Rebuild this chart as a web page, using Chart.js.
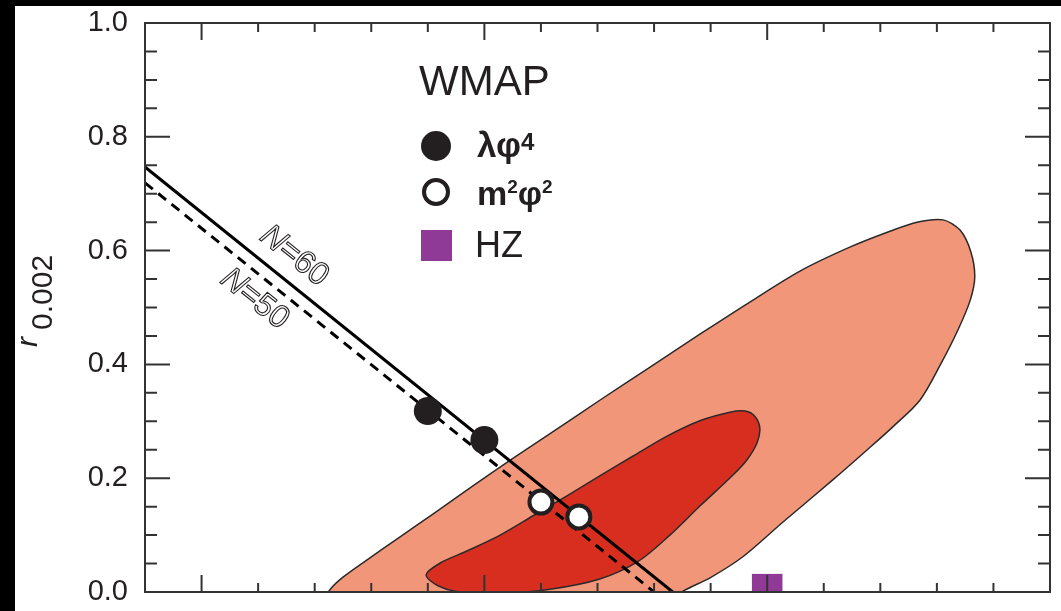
<!DOCTYPE html>
<html>
<head>
<meta charset="utf-8">
<script src="https://cdn.jsdelivr.net/npm/chart.js@4.4.0/dist/chart.umd.min.js"></script>
<style>
  html, body { margin: 0; padding: 0; background: #000; }
  #wrap { position: absolute; left: 15px; top: 6px; width: 1046px; height: 605px; background: #fff; }
</style>
</head>
<body>
<div id="wrap"><canvas id="rChart" width="1046" height="605"></canvas></div>
<script>
// contour data (n_s, r)
const outerNs = [0.9549, 0.9634, 0.9704, 0.9793, 0.9881, 0.9970, 1.0058, 1.0146, 1.0217, 1.0265, 1.0311, 1.0341, 1.0360, 1.0367, 1.0359, 1.0337, 1.0306, 1.0270, 1.0224, 1.0177, 1.0116, 1.0028, 0.9957, 0.9899, 0.9849, 0.9825, 0.9213, 0.9227, 0.9250, 0.9292, 0.9351, 0.9409, 0.9469, 0.9549];
const outerR  = [0.234, 0.290, 0.337, 0.395, 0.453, 0.510, 0.564, 0.606, 0.634, 0.650, 0.654, 0.636, 0.598, 0.554, 0.513, 0.460, 0.399, 0.337, 0.292, 0.250, 0.197, 0.123, 0.062, 0.025, 0.000, -0.023, -0.023, 0.004, 0.026, 0.056, 0.097, 0.137, 0.179, 0.234];
const innerNs = [0.9586, 0.9646, 0.9704, 0.9763, 0.9823, 0.9881, 0.9934, 0.9961, 0.9978, 0.9987, 0.9982, 0.9964, 0.9940, 0.9881, 0.9828, 0.9772, 0.9704, 0.9616, 0.9528, 0.9457, 0.9418, 0.9397, 0.9422, 0.9469, 0.9528, 0.9586];
const innerR  = [0.134, 0.169, 0.204, 0.239, 0.274, 0.301, 0.316, 0.318, 0.309, 0.288, 0.262, 0.232, 0.206, 0.151, 0.100, 0.054, 0.023, 0.005, -0.002, 0.000, 0.011, 0.030, 0.051, 0.072, 0.100, 0.134];

const n60Ns = [0.89, 0.9833];
const n60R  = [0.747, 0.0];
const n50Ns = [0.89, 0.9800];
const n50R  = [0.719, 0.0];

const lambdaNs = [0.940, 0.950];
const lambdaR  = [0.318, 0.267];
const m2Ns = [0.960, 0.9667];
const m2R  = [0.158, 0.132];
const hzNs = [1.0];
const hzR  = [0.005];

const yTickValues = [0, 0.2, 0.4, 0.6, 0.8, 1.0];
const yTickLabels = ['0.0', '0.2', '0.4', '0.6', '0.8', '1.0'];
const yMinorTicks = [0.05, 0.1, 0.15, 0.25, 0.3, 0.35, 0.45, 0.5, 0.55, 0.65, 0.7, 0.75, 0.85, 0.9, 0.95];
const xMajorTicks = [0.90, 0.95, 1.00, 1.05];
const xMinorTicks = [0.89, 0.91, 0.92, 0.93, 0.94, 0.96, 0.97, 0.98, 0.99, 1.01, 1.02, 1.03, 1.04];

const lineLabels = ['60', '50'];
const lineLabelNs = [0.9164, 0.9094];
const lineLabelR  = [0.5905, 0.515];

const FONT = '"Liberation Sans", Arial, Helvetica, sans-serif';
const INK = '#231F20';

const pts = (xs, ys) => xs.map((v, i) => ({x: v, y: ys[i]}));

// frame + inward ticks on all four sides
const frameTicks = {
    id: 'frameTicks',
    afterDatasetsDraw(chart) {
        const {ctx, chartArea: a, scales: {x, y}} = chart;
        ctx.save();
        ctx.strokeStyle = '#333';
        ctx.lineWidth = 2;
        ctx.beginPath();
        const xt = (v, len) => {
            const px = x.getPixelForValue(v);
            ctx.moveTo(px, a.bottom); ctx.lineTo(px, a.bottom - len);
            ctx.moveTo(px, a.top); ctx.lineTo(px, a.top + len);
        };
        const yt = (v, len) => {
            const py = y.getPixelForValue(v);
            ctx.moveTo(a.left, py); ctx.lineTo(a.left + len, py);
            ctx.moveTo(a.right, py); ctx.lineTo(a.right - len, py);
        };
        xMajorTicks.forEach(v => xt(v, 17));
        xMinorTicks.forEach(v => xt(v, 9));
        yTickValues.forEach(v => yt(v, 25));
        yMinorTicks.forEach(v => yt(v, 12));
        ctx.stroke();
        ctx.strokeRect(a.left, a.top, a.right - a.left, a.bottom - a.top);
        ctx.restore();
    },
    afterDraw(chart) {
        const {ctx, scales: {x, y}} = chart;
        ctx.save();
        ctx.fillStyle = INK;
        ctx.textBaseline = 'alphabetic';

        // y title: r_0.002
        ctx.save();
        ctx.translate(22, 341);
        ctx.rotate(-Math.PI / 2);
        ctx.font = 'italic 30px ' + FONT;
        ctx.fillText('r', 0, 0);
        ctx.font = '30px ' + FONT;
        ctx.fillText('0.002', 17, 15);
        ctx.restore();

        // labels along the N lines
        const ang = Math.atan2(
            y.getPixelForValue(n60R[1]) - y.getPixelForValue(n60R[0]),
            x.getPixelForValue(n60Ns[1]) - x.getPixelForValue(n60Ns[0]));
        lineLabels.forEach((t, i) => {
            ctx.save();
            ctx.translate(x.getPixelForValue(lineLabelNs[i]), y.getPixelForValue(lineLabelR[i]));
            ctx.rotate(ang);
            ctx.strokeStyle = INK;
            ctx.lineWidth = 1.1;
            ctx.textBaseline = 'middle';
            ctx.font = 'italic 32px ' + FONT;
            const wN = ctx.measureText('N').width;
            ctx.font = '32px ' + FONT;
            const wR = ctx.measureText('=' + t).width;
            const x0 = -(wN + wR) / 2;
            ctx.font = 'italic 32px ' + FONT;
            ctx.strokeText('N', x0, 0);
            ctx.font = '32px ' + FONT;
            ctx.strokeText('=' + t, x0 + wN, 0);
            ctx.restore();
        });

        // legend
        const rich = (parts, x0, base) => {
            let cx = x0;
            parts.forEach(([txt, font, dy]) => {
                ctx.font = font + ' ' + FONT;
                ctx.fillText(txt, cx, base + dy);
                cx += ctx.measureText(txt).width;
            });
        };
        ctx.font = '42px ' + FONT;
        ctx.fillText('WMAP', 404, 89);

        ctx.beginPath();
        ctx.arc(421, 140, 15, 0, Math.PI * 2);
        ctx.fill();
        rich([['λφ', 'bold 35px', 0], ['4', 'bold 24px', -7]], 462, 151);

        ctx.beginPath();
        ctx.arc(421, 186, 12, 0, Math.PI * 2);
        ctx.fillStyle = '#fff';
        ctx.fill();
        ctx.lineWidth = 4;
        ctx.strokeStyle = INK;
        ctx.stroke();
        ctx.fillStyle = INK;
        rich([['m', 'bold 34px', 0], ['2', 'bold 19px', -12], ['φ', 'bold 34px', 0], ['2', 'bold 19px', -12]], 462, 199);

        ctx.fillStyle = '#8E3A96';
        ctx.fillRect(406, 224, 31, 31);
        ctx.fillStyle = INK;
        ctx.font = '36px ' + FONT;
        ctx.fillText('HZ', 460, 251);
        ctx.restore();
    }
};

new Chart(document.getElementById('rChart'), {
    type: 'scatter',
    data: {
        datasets: [
            {
                label: 'm2phi2',
                data: pts(m2Ns, m2R),
                pointRadius: 11.5,
                pointBorderWidth: 4,
                pointBackgroundColor: '#fff',
                pointBorderColor: INK
            },
            {
                label: 'lambdaphi4',
                data: pts(lambdaNs, lambdaR),
                pointRadius: 14,
                pointBorderWidth: 0,
                pointBackgroundColor: INK
            },
            {
                label: 'HZ',
                data: pts(hzNs, hzR),
                pointStyle: 'rect',
                pointRadius: 21.6,
                pointBorderWidth: 0,
                pointBackgroundColor: '#8E3A96',
                clip: 0
            },
            {
                label: 'N=60',
                data: pts(n60Ns, n60R),
                showLine: true,
                borderColor: '#000',
                borderWidth: 3,
                pointRadius: 0,
                clip: 0
            },
            {
                label: 'N=50',
                data: pts(n50Ns, n50R),
                showLine: true,
                borderColor: '#000',
                borderWidth: 3,
                borderDash: [10, 7],
                pointRadius: 0,
                clip: 0
            },
            {
                label: '68%',
                data: pts(innerNs, innerR),
                showLine: true,
                fill: 'shape',
                backgroundColor: '#D82E20',
                borderColor: '#2a2a2a',
                borderWidth: 1.5,
                pointRadius: 0,
                tension: 0.3,
                clip: 0
            },
            {
                label: '95%',
                data: pts(outerNs, outerR),
                showLine: true,
                fill: 'shape',
                backgroundColor: '#F2967A',
                borderColor: '#2a2a2a',
                borderWidth: 1.5,
                pointRadius: 0,
                tension: 0.3,
                clip: 0
            }
        ]
    },
    options: {
        responsive: false,
        animation: false,
        events: [],
        layout: { autoPadding: false, padding: { top: 0, right: 11, bottom: 0, left: 0 } },
        plugins: {
            legend: { display: false },
            tooltip: { enabled: false }
        },
        scales: {
            x: {
                type: 'linear',
                min: 0.89,
                max: 1.05,
                display: false
            },
            y: {
                type: 'linear',
                min: 0,
                max: 1,
                afterFit: s => {
                    s.width = 130;
                    s.paddingTop = 17;
                    s.paddingBottom = 19;
                },
                grid: { display: false, drawTicks: false },
                border: { display: false },
                ticks: {
                    stepSize: 0.2,
                    padding: 17,
                    color: INK,
                    font: { family: FONT, size: 29 },
                    callback: v => {
                        const i = yTickValues.findIndex(t => Math.abs(t - v) < 1e-6);
                        return i >= 0 ? yTickLabels[i] : '';
                    }
                }
            }
        }
    },
    plugins: [frameTicks]
});
</script>
</body>
</html>
